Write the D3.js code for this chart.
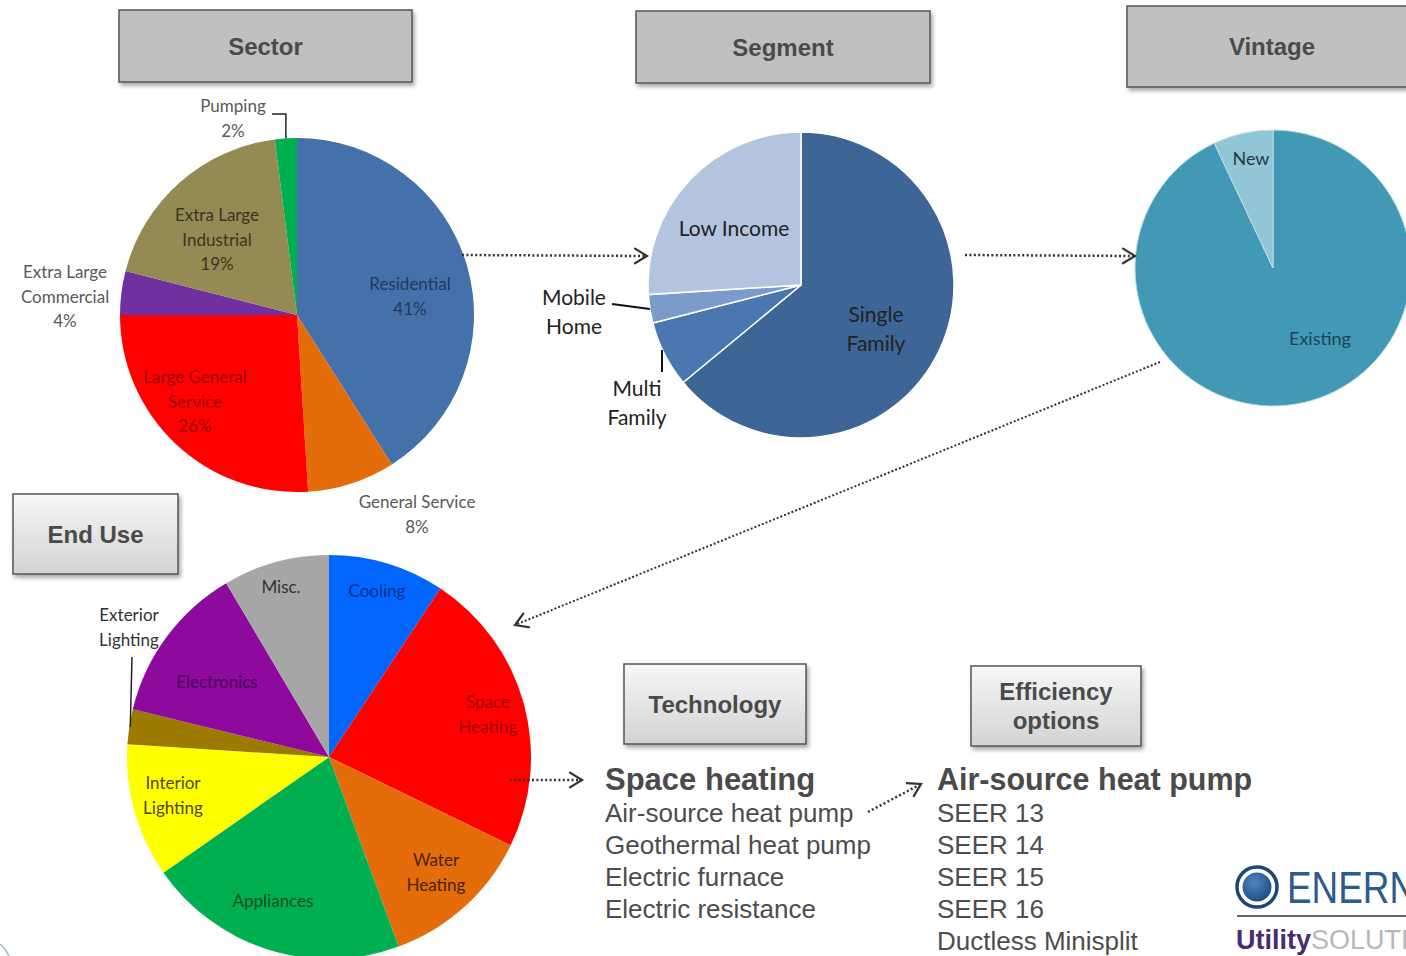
<!DOCTYPE html>
<html>
<head>
<meta charset="utf-8">
<script src="https://cdn.jsdelivr.net/npm/d3@7"></script>
<style>
  body { margin: 0; background: #fff; }
  svg { display: block; }
</style>
</head>
<body>
<script>
// ---- data ----
const sectorNames = ["Residential", "General Service", "Large General\nService", "Extra Large\nCommercial", "Extra Large\nIndustrial", "Pumping"];
const sectorValues = [41, 8, 26, 4, 19, 2];
const sectorColors = ["#4471a9", "#e46c0a", "#ff0000", "#7030a0", "#948a54", "#00b050"];

const segmentNames = ["Single\nFamily", "Multi\nFamily", "Mobile\nHome", "Low Income"];
const segmentValues = [64, 7, 3, 26];
const segmentColors = ["#3d6595", "#4a77b0", "#7b9bca", "#b5c4de"];

const vintageNames = ["Existing", "New"];
const vintageValues = [93, 7];
const vintageColors = ["#4299b5", "#92c5d6"];

const endUseNames = ["Cooling", "Space\nHeating", "Water\nHeating", "Appliances", "Interior\nLighting", "Exterior\nLighting", "Electronics", "Misc."];
const endUseValues = [9.3, 22.9, 12.2, 20.9, 10.7, 2.8, 12.7, 8.5];
const endUseColors = ["#0066ff", "#ff0000", "#e46c0a", "#00b050", "#ffff00", "#9c7a00", "#8e0a9c", "#a6a6a6"];

const technologyTitle = "Space heating";
const technologyItems = ["Air-source heat pump", "Geothermal heat pump", "Electric furnace", "Electric resistance"];
const efficiencyTitle = "Air-source heat pump";
const efficiencyItems = ["SEER 13", "SEER 14", "SEER 15", "SEER 16", "Ductless Minisplit"];

// ---- canvas ----
const width = 1406;
const height = 956;

let svg = d3.select("body")
    .append("svg")
    .attr("width", width)
    .attr("height", height);

let defs = svg.append("defs");
let shadow = defs.append("filter").attr("id", "shadow")
    .attr("x", "-10%").attr("y", "-10%").attr("width", "130%").attr("height", "140%");
shadow.append("feDropShadow")
    .attr("dx", 2).attr("dy", 3).attr("stdDeviation", 2)
    .attr("flood-color", "#000").attr("flood-opacity", 0.35);

let grad = defs.append("linearGradient").attr("id", "boxGrad")
    .attr("x1", 0).attr("y1", 0).attr("x2", 0).attr("y2", 1);
grad.append("stop").attr("offset", "0%").attr("stop-color", "#f7f7f7");
grad.append("stop").attr("offset", "100%").attr("stop-color", "#d3d3d3");

let logoGrad = defs.append("radialGradient").attr("id", "logoGrad")
    .attr("cx", "40%").attr("cy", "35%").attr("r", "70%");
logoGrad.append("stop").attr("offset", "0%").attr("stop-color", "#4f86c0");
logoGrad.append("stop").attr("offset", "100%").attr("stop-color", "#1d4a7e");

const labelFont = "Lato, 'Open Sans', sans-serif";
const boxFont = "'Liberation Sans', Arial, sans-serif";

// header boxes
function headerBox(x, y, w, h, lines, fill) {
    let g = svg.append("g");
    g.append("rect")
        .attr("x", x).attr("y", y).attr("width", w).attr("height", h)
        .attr("fill", fill)
        .attr("stroke", "#555")
        .attr("stroke-width", 1.5)
        .attr("filter", "url(#shadow)");
    let lh = 29;
    lines.forEach((t, i) => {
        g.append("text")
            .attr("x", x + w / 2)
            .attr("y", y + h / 2 + (i - (lines.length - 1) / 2) * lh)
            .attr("text-anchor", "middle")
            .attr("dominant-baseline", "central")
            .style("font-family", boxFont)
            .style("font-weight", "bold")
            .style("font-size", "24px")
            .style("fill", "#4a4a4a")
            .text(t);
    });
}

headerBox(119, 10, 293, 72, ["Sector"], "#c0c0c0");
headerBox(636, 11, 294, 72, ["Segment"], "#c0c0c0");
headerBox(1127, 6, 290, 81, ["Vintage"], "#c0c0c0");
headerBox(13, 494, 165, 80, ["End Use"], "url(#boxGrad)");
headerBox(624, 664, 182, 80, ["Technology"], "url(#boxGrad)");
headerBox(971, 666, 170, 80, ["Efficiency", "options"], "url(#boxGrad)");

// generic pie
function drawPie(cfg) {
    let g = svg.append("g").attr("transform", `translate(${cfg.cx},${cfg.cy})`);
    let arcs = d3.pie().sort(null).value(d => d)(cfg.values);
    let arc = d3.arc().innerRadius(0).outerRadius(cfg.r);

    g.selectAll("path.slice")
        .data(arcs)
        .enter()
        .append("path")
        .attr("class", "slice")
        .attr("d", arc)
        .style("fill", (d, i) => cfg.colors[i])
        .style("stroke", cfg.stroke || "none")
        .style("stroke-width", cfg.strokeWidth || 0);

    cfg.labels.forEach((lab, i) => {
        let lines = lab.lines;
        let t = g.append("text")
            .attr("text-anchor", "middle")
            .style("font-family", labelFont)
            .style("font-size", cfg.fontSize + "px")
            .style("fill", lab.color);
        lines.forEach((ln, k) => {
            t.append("tspan")
                .attr("x", lab.dx)
                .attr("y", lab.dy + (k - (lines.length - 1) / 2) * cfg.lineHeight)
                .attr("dominant-baseline", "central")
                .text(ln);
        });
    });

    // point on the rim in the middle of slice i
    function rim(i, rr) {
        let a = (arcs[i].startAngle + arcs[i].endAngle) / 2;
        return d3.pointRadial(a, rr || cfg.r);
    }
    return { g, arcs, rim };
}

// ---- Sector ----
const sectorLabelLayout = [
    { dx: 113, dy: -19, color: "#1e3a62" },
    { dx: 120, dy: 199, color: "#595959" },
    { dx: -102, dy: 86, color: "#9a0000" },
    { dx: -232, dy: -19, color: "#595959" },
    { dx: -80, dy: -76, color: "#3a3520" },
    { dx: -64, dy: -197, color: "#595959" }
];
let sector = drawPie({
    cx: 297, cy: 315, r: 177,
    values: sectorValues, colors: sectorColors,
    fontSize: 17, lineHeight: 24.5,
    labels: sectorNames.map((n, i) => Object.assign({
        lines: n.split("\n").concat([sectorValues[i] + "%"])
    }, sectorLabelLayout[i]))
});
// leader for Pumping
let pr = sector.rim(5);
sector.g.append("path")
    .attr("d", `M-25,-201 L${pr[0]},-201 L${pr[0]},${pr[1]}`)
    .style("fill", "none").style("stroke", "#222").style("stroke-width", 1.5);

// ---- Segment ----
const segmentLabelLayout = [
    { dx: 75, dy: 43, color: "#222" },
    { dx: -164, dy: 117, color: "#222" },
    { dx: -227, dy: 26, color: "#222" },
    { dx: -67, dy: -58, color: "#222" }
];
let segment = drawPie({
    cx: 801, cy: 285, r: 153,
    values: segmentValues, colors: segmentColors,
    stroke: "#fff", strokeWidth: 1.5,
    fontSize: 21, lineHeight: 29,
    labels: segmentNames.map((n, i) => Object.assign({ lines: n.split("\n") }, segmentLabelLayout[i]))
});
let mr = segment.rim(2);
segment.g.append("path")
    .attr("d", `M-189,19 L${mr[0]},${mr[1]}`)
    .style("fill", "none").style("stroke", "#111").style("stroke-width", 2);
segment.g.append("path")
    .attr("d", "M-139,65 L-139,87")
    .style("fill", "none").style("stroke", "#111").style("stroke-width", 2);

// ---- Vintage ----
const vintageLabelLayout = [
    { dx: 47, dy: 70, color: "#1b4656" },
    { dx: -22, dy: -110, color: "#1f3a48" }
];
drawPie({
    cx: 1273, cy: 268, r: 138,
    values: vintageValues, colors: vintageColors,
    stroke: "#b9dde8", strokeWidth: 1,
    fontSize: 18, lineHeight: 24,
    labels: vintageNames.map((n, i) => Object.assign({ lines: n.split("\n") }, vintageLabelLayout[i]))
});

// ---- End Use ----
const endUseLabelLayout = [
    { dx: 48, dy: -167, color: "#0a2f8a" },
    { dx: 159, dy: -43, color: "#a00000" },
    { dx: 107, dy: 115, color: "#4a2200" },
    { dx: -56, dy: 143, color: "#0b4d25" },
    { dx: -156, dy: 38, color: "#4a4a10" },
    { dx: -200, dy: -130, color: "#333" },
    { dx: -112, dy: -76, color: "#4a0058" },
    { dx: -48, dy: -171, color: "#333" }
];
let endUse = drawPie({
    cx: 329, cy: 757, r: 202,
    values: endUseValues, colors: endUseColors,
    fontSize: 17, lineHeight: 24.5,
    labels: endUseNames.map((n, i) => Object.assign({ lines: n.split("\n") }, endUseLabelLayout[i]))
});
let er = endUse.rim(5);
endUse.g.append("path")
    .attr("d", `M-197,-100 L${er[0] + 1},${er[1]}`)
    .style("fill", "none").style("stroke", "#222").style("stroke-width", 1.5);

// ---- dotted arrows ----
function dottedArrow(x1, y1, x2, y2, sw, dash) {
    svg.append("path")
        .attr("d", `M${x1},${y1} L${x2},${y2}`)
        .style("fill", "none")
        .style("stroke", "#333")
        .style("stroke-width", sw)
        .style("stroke-dasharray", dash);
    let ang = Math.atan2(y2 - y1, x2 - x1);
    let len = 15, spread = 0.55;
    let a1 = ang + Math.PI - spread, a2 = ang + Math.PI + spread;
    svg.append("path")
        .attr("d", `M${x2 + len * Math.cos(a1)},${y2 + len * Math.sin(a1)} L${x2},${y2} L${x2 + len * Math.cos(a2)},${y2 + len * Math.sin(a2)}`)
        .style("fill", "none")
        .style("stroke", "#333")
        .style("stroke-width", 2.2);
}
dottedArrow(462, 255, 647, 256, 2.5, "2,2.4");
dottedArrow(965, 255, 1135, 256, 2.5, "2,2.4");
dottedArrow(1160, 362, 515, 625, 2, "2,2");
dottedArrow(510, 780, 582, 780, 2.5, "2,2.4");
dottedArrow(868, 812, 921, 784, 2.5, "2,2.4");

// ---- technology / efficiency lists ----
function textList(x, title, titleSize, items) {
    svg.append("text")
        .attr("x", x).attr("y", 790)
        .style("font-family", boxFont)
        .style("font-weight", "bold")
        .style("font-size", titleSize + "px")
        .style("fill", "#4a4a4a")
        .text(title);
    svg.selectAll(null)
        .data(items)
        .enter()
        .append("text")
        .attr("x", x)
        .attr("y", (d, i) => 822 + i * 32)
        .style("font-family", boxFont)
        .style("font-size", "26px")
        .style("fill", "#4d4d4d")
        .text(d => d);
}
textList(605, technologyTitle, 31, technologyItems);
textList(937, efficiencyTitle, 30.5, efficiencyItems);

// ---- logo (runs off the right edge like the slide) ----
let logo = svg.append("g");
logo.append("circle").attr("cx", 1257).attr("cy", 887).attr("r", 20)
    .style("fill", "#fff").style("stroke", "#1d4675").style("stroke-width", 3.5);
logo.append("circle").attr("cx", 1257).attr("cy", 887).attr("r", 14.5)
    .style("fill", "url(#logoGrad)");
logo.append("text")
    .attr("transform", "translate(1287,903) scale(0.9,1.08)")
    .style("font-family", boxFont).style("font-size", "41px")
    .style("fill", "#2d5b8c").text("ENERNOC");
logo.append("line").attr("x1", 1237).attr("x2", 1406).attr("y1", 916).attr("y2", 916)
    .style("stroke", "#333").style("stroke-width", 1.5);
let ut = logo.append("text").attr("x", 1236).attr("y", 949)
    .style("font-family", boxFont).style("font-size", "27px");
ut.append("tspan").style("font-weight", "bold").style("fill", "#4b2b6e").text("Utility");
ut.append("tspan").style("fill", "#b8b8b8").text("SOLUTIONS");

// slide corner decoration
svg.append("path")
    .attr("d", "M0,944 Q5,948 9,956")
    .style("fill", "none").style("stroke", "#9fb8d8").style("stroke-width", 1.5);
</script>
</body>
</html>
